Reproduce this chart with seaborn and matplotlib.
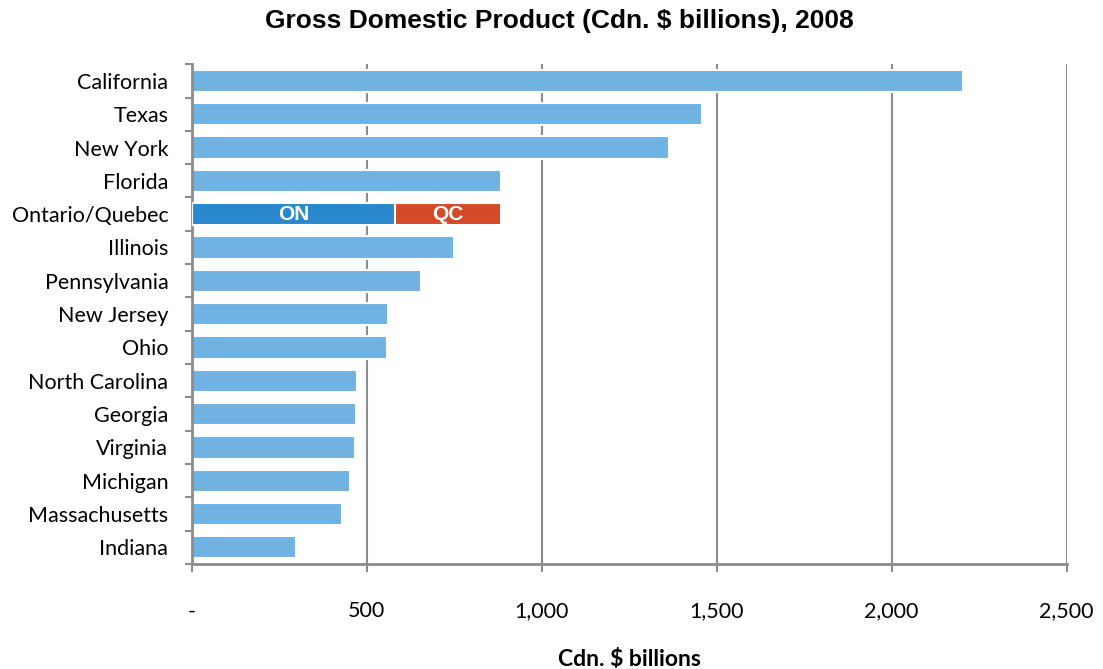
import numpy as np
import pandas as pd
import matplotlib
matplotlib.use("Agg")
import matplotlib.pyplot as plt
import seaborn as sns

# GDP 2008, Cdn. $ billions
regions = ['California', 'Texas', 'New York', 'Florida', 'Ontario/Quebec', 'Illinois',
           'Pennsylvania', 'New Jersey', 'Ohio', 'North Carolina', 'Georgia', 'Virginia',
           'Michigan', 'Massachusetts', 'Indiana']
gdp = [2203, 1457, 1363, 882, 883, 750, 654, 561, 557, 472, 468, 467, 451, 429, 297]
on_value = 581
qc_value = 302
xticks = [0, 500, 1000, 1500, 2000, 2500]
xtick_labels = ['-', '500', '1,000', '1,500', '2,000', '2,500']

light_blue = '#70B2E2'
on_color = '#2989CC'
qc_color = '#D44B28'
grid_gray = '#8C8C8C'

sns.set_style('white')
plt.rcParams['font.family'] = ['Lato', 'DejaVu Sans']
plt.rcParams['text.color'] = 'black'
plt.rcParams['xtick.labelcolor'] = 'black'
plt.rcParams['ytick.labelcolor'] = 'black'
plt.rcParams['axes.labelcolor'] = 'black'

df = pd.DataFrame({'region': regions, 'gdp': gdp})
df.loc[df['region'] == 'Ontario/Quebec', 'gdp'] = on_value + qc_value
palette = {r: (qc_color if r == 'Ontario/Quebec' else light_blue) for r in regions}

fig = plt.figure(figsize=(11.03, 6.69), dpi=100)
ax = fig.add_axes([0.174, 0.157, 0.793, 0.747])

sns.barplot(data=df, y='region', x='gdp', hue='region', palette=palette, order=regions,
            orient='h', width=0.67, edgecolor='white', linewidth=1.5, legend=False,
            saturation=1, ax=ax, zorder=2)
on_df = pd.DataFrame({'region': ['Ontario/Quebec'], 'gdp': [on_value]})
sns.barplot(data=on_df, y='region', x='gdp', order=regions, orient='h', width=0.67,
            color=on_color, edgecolor='white', linewidth=1.5, saturation=1, ax=ax, zorder=3)

row = regions.index('Ontario/Quebec')
ax.text(on_value / 2, row, 'ON', color='white', ha='center', va='center',
        fontsize=15, fontweight='bold', family='Liberation Sans', zorder=4)
ax.text(on_value + qc_value / 2, row, 'QC', color='white', ha='center', va='center',
        fontsize=15, fontweight='bold', family='Liberation Sans', zorder=4)

ax.set_xlim(0, 2500)
ax.set_ylim(len(regions) - 0.5, -0.5)
ax.set_xticks(xticks)
ax.set_xticklabels(xtick_labels, fontsize=15.5)
ax.set_yticks(range(len(regions)))
ax.set_yticklabels(regions, fontsize=15.5)
ax.set_yticks(np.arange(-0.5, len(regions)), minor=True)
ax.tick_params(axis='y', which='major', length=0, pad=17)
ax.tick_params(axis='y', which='minor', length=5, width=1.5, color=grid_gray, left=True)
ax.tick_params(axis='x', length=6, width=1.5, color=grid_gray, pad=21, bottom=True)

ax.xaxis.grid(True, color=grid_gray, linewidth=1.5, zorder=0)
ax.set_axisbelow(True)
for side in ['top', 'right']:
    ax.spines[side].set_visible(False)
for side in ['left', 'bottom']:
    ax.spines[side].set_color(grid_gray)
    ax.spines[side].set_linewidth(2)

ax.set_ylabel('')
ax.set_xlabel('Cdn. $ billions', fontsize=16.5, fontweight='bold', labelpad=20)
fig.text(0.507, 0.968, 'Gross Domestic Product (Cdn. $ billions), 2008', ha='center',
         va='center', fontsize=19, fontweight='bold', family='Liberation Sans')

fig.savefig('out.png', dpi=100)
